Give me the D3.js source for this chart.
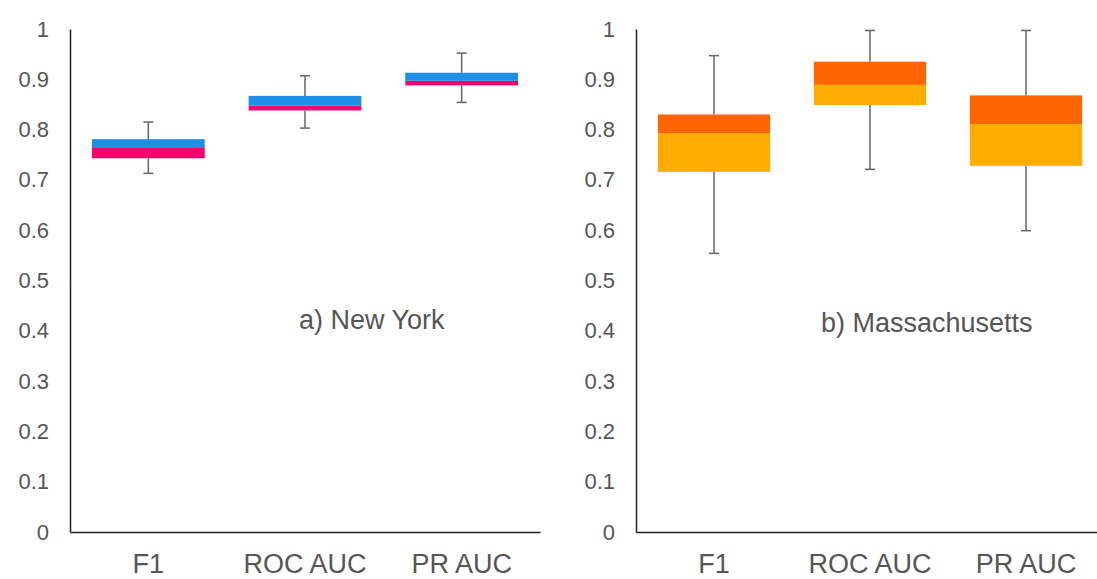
<!DOCTYPE html>
<html>
<head>
<meta charset="utf-8">
<script src="https://d3js.org/d3.v7.min.js"></script>
<style>
body { margin: 0; background: #fff; }
svg text { font-family: "Liberation Sans", Arial, sans-serif; fill: #555; }
</style>
</head>
<body>
<div id="chart"></div>
<script>
// box plot values
var categories = ["F1", "ROC AUC", "PR AUC"];
var yTicks = [0, 0.1, 0.2, 0.3, 0.4, 0.5, 0.6, 0.7, 0.8, 0.9, 1];

// a) New York
var nyMin    = [0.713, 0.803, 0.854];
var nyQ1     = [0.743, 0.838, 0.888];
var nyMedian = [0.765, 0.848, 0.897];
var nyQ3     = [0.781, 0.867, 0.913];
var nyMax    = [0.815, 0.907, 0.952];

// b) Massachusetts
var maMin    = [0.554, 0.721, 0.599];
var maQ1     = [0.716, 0.849, 0.728];
var maMedian = [0.793, 0.889, 0.811];
var maQ3     = [0.830, 0.935, 0.868];
var maMax    = [0.947, 0.997, 0.997];

var W = 1097, H = 579;
var svg = d3.select("#chart").append("svg")
  .attr("width", W)
  .attr("height", H);

// same vertical scale for both panels
var y = d3.scaleLinear().domain([0, 1]).range([532, 29]);

function panel(x0, x1, mins, q1s, meds, q3s, maxs, lowColor, highColor, label, lx, ly) {
  var x = d3.scaleBand()
    .domain(categories)
    .range([x0, x1])
    .paddingInner(0.28)
    .paddingOuter(0.14);

  var g = svg.append("g");

  // y axis
  var ya = g.append("g")
    .attr("transform", "translate(" + x0 + ",0)")
    .call(d3.axisLeft(y).tickValues(yTicks).tickSize(0).tickPadding(21)
      .tickFormat(function(d) { return d3.format("")(+d.toFixed(1)); }));
  ya.select(".domain").attr("stroke", "#222").attr("stroke-width", 1.5);
  ya.selectAll("text").style("font-size", "22px").attr("fill", "#555");

  // x axis
  var xa = g.append("g")
    .attr("transform", "translate(0," + y(0) + ")")
    .call(d3.axisBottom(x).tickSize(0).tickPadding(22).tickSizeOuter(0));
  xa.select(".domain").attr("stroke", "#222").attr("stroke-width", 1.5);
  xa.selectAll("text").style("font-size", "27px").attr("fill", "#555");

  var bw = x.bandwidth();
  categories.forEach(function(c, i) {
    var cx = x(c) + bw / 2;
    // whiskers
    g.append("line").attr("x1", cx).attr("x2", cx)
      .attr("y1", y(maxs[i])).attr("y2", y(q3s[i]))
      .attr("stroke", "#666").attr("stroke-width", 1.5);
    g.append("line").attr("x1", cx).attr("x2", cx)
      .attr("y1", y(q1s[i])).attr("y2", y(mins[i]))
      .attr("stroke", "#666").attr("stroke-width", 1.5);
    [maxs[i], mins[i]].forEach(function(v) {
      g.append("line").attr("x1", cx - 5).attr("x2", cx + 5)
        .attr("y1", y(v)).attr("y2", y(v))
        .attr("stroke", "#666").attr("stroke-width", 1.5);
    });
    // lower box (q1 -> median)
    g.append("rect")
      .attr("x", x(c)).attr("width", bw)
      .attr("y", y(meds[i])).attr("height", y(q1s[i]) - y(meds[i]))
      .attr("fill", lowColor);
    // upper box (median -> q3)
    g.append("rect")
      .attr("x", x(c)).attr("width", bw)
      .attr("y", y(q3s[i])).attr("height", y(meds[i]) - y(q3s[i]))
      .attr("fill", highColor);
  });

  g.append("text")
    .attr("x", lx).attr("y", ly)
    .style("font-size", "27px")
    .attr("fill", "#555")
    .text(label);
}

panel(70, 540, nyMin, nyQ1, nyMedian, nyQ3, nyMax, "#f2056f", "#1e8ee6", "a) New York", 299, 329);
panel(636, 1104, maMin, maQ1, maMedian, maQ3, maMax, "#ffac00", "#fe6500", "b) Massachusetts", 821, 332);
</script>
</body>
</html>
